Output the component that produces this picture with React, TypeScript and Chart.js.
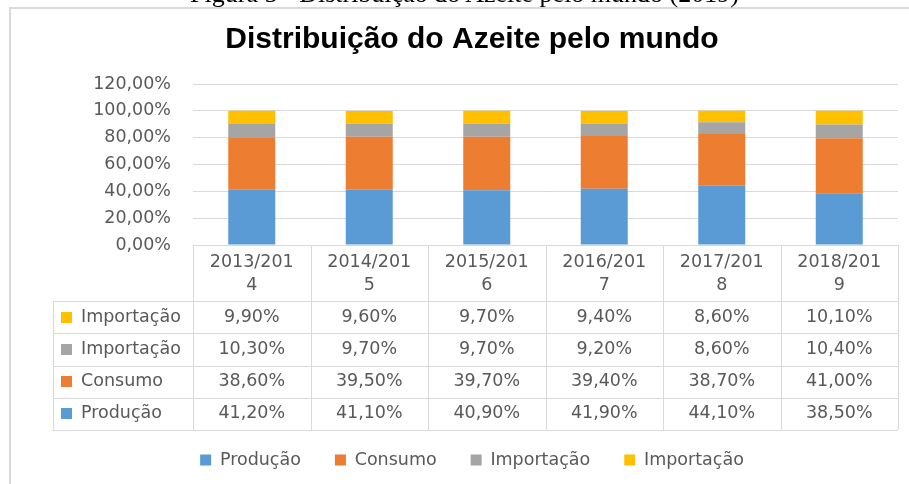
import React, { useEffect, useRef } from "react";
import { Chart, registerables } from "chart.js";

Chart.register(...registerables);

const caption = "Figura 5 - Distribuição do Azeite pelo mundo (2019)";
const chartTitle = "Distribuição do Azeite pelo mundo";
const categories = ["2013/2014", "2014/2015", "2015/2016", "2016/2017", "2017/2018", "2018/2019"];
const producao = [41.2, 41.1, 40.9, 41.9, 44.1, 38.5];
const consumo = [38.6, 39.5, 39.7, 39.4, 38.7, 41.0];
const importacaoCinza = [10.3, 9.7, 9.7, 9.2, 8.6, 10.4];
const importacaoAmarela = [9.9, 9.6, 9.7, 9.4, 8.6, 10.1];
const seriesNames = ["Produção", "Consumo", "Importação", "Importação"];
const seriesValues = [producao, consumo, importacaoCinza, importacaoAmarela];
const seriesColors = ["#5B9BD5", "#ED7D31", "#A5A5A5", "#FFC000"];
const yMin = 0;
const yMax = 120;
const yStep = 20;

const fmt = (v: number) => v.toFixed(2).replace(".", ",") + "%";

const FONT = "'DejaVu Sans'";
const TEXT = "#595959";
const LINE = "#d9d9d9";

const tablePlugin = {
  id: "dataTable",
  beforeDraw(chart: any) {
    const ctx = chart.ctx;
    ctx.save();
    ctx.fillStyle = LINE;
    ctx.fillRect(9, 7, chart.width, 2);
    ctx.fillRect(9, 7, 2, chart.height);
    ctx.restore();
  },
  afterDraw(chart: any) {
    const ctx = chart.ctx;
    const ca = chart.chartArea;
    const x = chart.scales.x;
    const n = categories.length;
    const catW = (ca.right - ca.left) / n;
    const top = ca.bottom;
    const headerH = 56;
    const rowH = 32.25;
    const labelLeft = 53;
    const rowsTop = top + headerH;
    const bottom = rowsTop + rowH * 4;
    ctx.save();
    ctx.strokeStyle = LINE;
    ctx.lineWidth = 1;
    ctx.beginPath();
    const hl = (y: number, x1: number, x2: number) => {
      const yy = Math.round(y) + 0.5;
      ctx.moveTo(x1, yy);
      ctx.lineTo(x2, yy);
    };
    const vl = (xx: number, y1: number, y2: number) => {
      const px = Math.round(xx) + 0.5;
      ctx.moveTo(px, y1);
      ctx.lineTo(px, y2);
    };
    hl(top, ca.left, ca.right);
    for (let r = 0; r <= 4; r++) hl(rowsTop + r * rowH, labelLeft, ca.right);
    for (let i = 0; i <= n; i++) vl(ca.left + i * catW, top, bottom);
    vl(labelLeft, rowsTop, bottom);
    ctx.stroke();

    ctx.font = `17.5px ${FONT}`;
    ctx.fillStyle = TEXT;
    ctx.textAlign = "center";
    ctx.textBaseline = "middle";
    categories.forEach((c, i) => {
      const cx = x.getPixelForValue(i);
      ctx.fillText(c.slice(0, 8), cx, top + 17);
      ctx.fillText(c.slice(8), cx, top + 40);
    });
    const order = [3, 2, 1, 0];
    order.forEach((di, r) => {
      const cy = rowsTop + r * rowH + rowH / 2;
      ctx.fillStyle = seriesColors[di];
      ctx.fillRect(61, Math.round(cy - 5.5), 11, 11);
      ctx.fillStyle = TEXT;
      ctx.textAlign = "left";
      ctx.fillText(seriesNames[di], 81, cy);
      ctx.textAlign = "center";
      seriesValues[di].forEach((v, i) => {
        ctx.fillText(fmt(v), x.getPixelForValue(i), cy);
      });
    });
    ctx.restore();
  },
};

export default function App() {
  const ref = useRef<HTMLCanvasElement | null>(null);
  useEffect(() => {
    if (!ref.current) return;
    const chart = new Chart(ref.current, {
      type: "bar",
      data: {
        labels: categories,
        datasets: seriesNames.map((name, i) => ({
          label: name,
          data: seriesValues[i],
          backgroundColor: seriesColors[i],
          borderWidth: 0,
          barPercentage: 0.5,
          categoryPercentage: 0.8,
        })),
      },
      options: {
        responsive: false,
        animation: false,
        devicePixelRatio: 1,
        events: [],
        layout: { padding: { left: 46, right: 11, top: 0, bottom: 5.25 } },
        plugins: {
          title: {
            display: true,
            text: chartTitle,
            color: "#000000",
            font: { family: "'Liberation Sans'", size: 30, weight: "bold" },
            padding: { top: 22, bottom: 26 },
          },
          legend: {
            display: true,
            position: "bottom",
            labels: {
              boxWidth: 11,
              boxHeight: 11,
              padding: 34,
              color: TEXT,
              font: { family: FONT, size: 17.5 },
            },
          },
          tooltip: { enabled: false },
        },
        scales: {
          x: {
            stacked: true,
            grid: { display: false },
            border: { display: false },
            ticks: { display: false },
            afterFit: (s: any) => {
              s.height = 172.25;
            },
          },
          y: {
            stacked: true,
            min: yMin,
            max: yMax,
            ticks: {
              stepSize: yStep,
              callback: (v: any) => fmt(Number(v)),
              color: TEXT,
              font: { family: FONT, size: 17.5 },
              padding: 22,
            },
            grid: { color: LINE, drawTicks: false },
            border: { display: false },
            afterFit: (s: any) => {
              s.width = 147;
            },
          },
        },
      },
      plugins: [tablePlugin],
    });
    return () => chart.destroy();
  }, []);

  return (
    <div
      style={{
        position: "fixed",
        left: 0,
        top: 0,
        width: 909,
        height: 484,
        overflow: "hidden",
        background: "#ffffff",
      }}
    >
      <canvas ref={ref} width={909} height={484} style={{ display: "block", width: 909, height: 484 }} />
      <div
        style={{
          position: "absolute",
          left: 0,
          top: -19,
          width: 929,
          textAlign: "center",
          fontFamily: "'Liberation Serif', serif",
          fontSize: 26,
          lineHeight: "26px",
          color: "#000",
          whiteSpace: "nowrap",
        }}
      >
        {caption}
      </div>
    </div>
  );
}
